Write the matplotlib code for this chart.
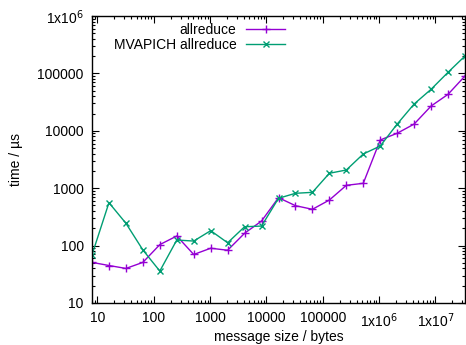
import matplotlib
matplotlib.use("Agg")
import matplotlib.pyplot as plt
from matplotlib.ticker import FixedLocator, FixedFormatter, LogLocator, NullFormatter

plt.rcParams['font.family'] = ['Liberation Sans', 'DejaVu Sans']

sizes = [8, 16, 32, 64, 128, 256, 512, 1024, 2048, 4096, 8192, 16384, 32768,
         65536, 131072, 262144, 524288, 1048576, 2097152, 4194304, 8388608,
         16777216, 33554432]
allreduce = [51, 45, 40, 51, 104, 147, 70, 90, 83, 164, 268, 684, 496, 429,
             622, 1122, 1217, 6920, 9060, 13100, 27000, 43200, 90200]
mvapich = [69, 559, 245, 84, 36, 125, 120, 182, 112, 213, 219, 667, 815, 847,
           1820, 2075, 3945, 5430, 13100, 29300, 52900, 104500, 201000]

xticks = [10, 100, 1000, 10000, 100000, 1e6, 1e7]
xlabels = ['10', '100', '1000', '10000', '100000', r'1x10$^{6}$', r'1x10$^{7}$']
yticks = [10, 100, 1000, 10000, 100000, 1e6]
ylabels = ['10', '100', '1000', '10000', '100000', r'1x10$^{6}$']

fig = plt.figure(figsize=(4.66, 3.45), dpi=100)
ax = fig.add_axes([92/466, 1-303/345, 373/466, 287/345])

ax.plot(sizes, allreduce, color='#9400d3', lw=1, marker='+', ms=6, mew=1,
        label='allreduce')
ax.plot(sizes, mvapich, color='#009e73', lw=1, marker='x', ms=5, mew=1,
        label='MVAPICH allreduce')

ax.set_xscale('log')
ax.set_yscale('log')
ax.set_xlim(8, 33554432)
ax.set_ylim(10, 1e6)

ax.xaxis.set_major_locator(FixedLocator(xticks))
ax.xaxis.set_major_formatter(FixedFormatter(xlabels))
ax.yaxis.set_major_locator(FixedLocator(yticks))
ax.yaxis.set_major_formatter(FixedFormatter(ylabels))
ax.xaxis.set_minor_locator(LogLocator(base=10, subs=range(2, 10), numticks=20))
ax.yaxis.set_minor_locator(LogLocator(base=10, subs=range(2, 10), numticks=20))
ax.xaxis.set_minor_formatter(NullFormatter())
ax.yaxis.set_minor_formatter(NullFormatter())

ax.tick_params(which='both', direction='in', top=True, right=True,
               labelsize=10, width=0.8, colors='black')
ax.tick_params(which='major', length=5, pad=6)
ax.tick_params(which='minor', length=2.5)
for s in ax.spines.values():
    s.set_linewidth(1)

ax.set_xlabel('message size / bytes', fontsize=10, labelpad=0)
ax.set_ylabel('time / µs', fontsize=10, labelpad=10)

ax.legend(loc='upper right', bbox_to_anchor=(0.518, 0.976), frameon=False,
          markerfirst=False, fontsize=10, borderpad=0, borderaxespad=0,
          handlelength=2.8, handletextpad=0.7, labelspacing=0.05)

fig.savefig('out.png', dpi=100)
